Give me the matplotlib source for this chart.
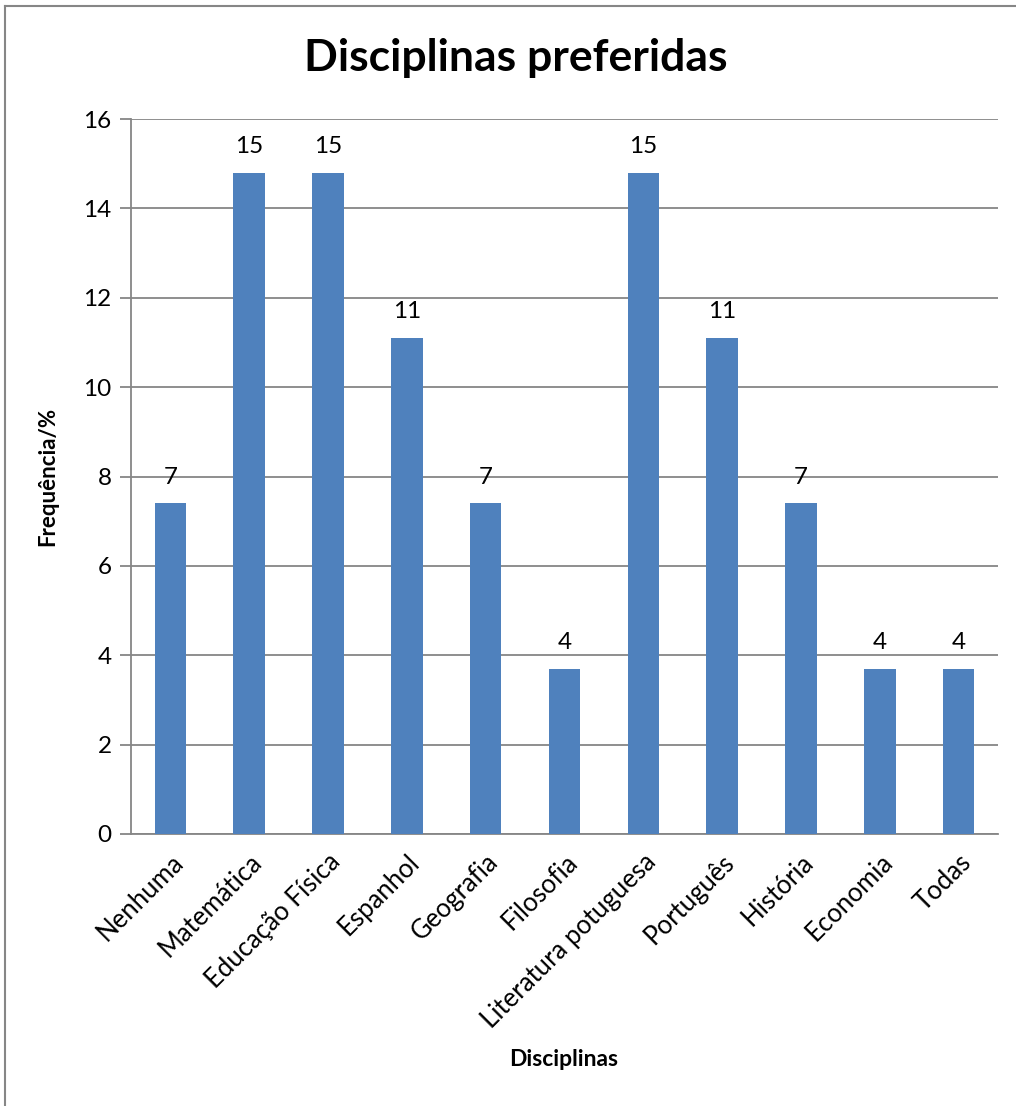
import matplotlib
matplotlib.use("Agg")
import matplotlib.pyplot as plt
from matplotlib.lines import Line2D

# Data
disciplinas = ["Nenhuma", "Matemática", "Educação Física", "Espanhol", "Geografia",
               "Filosofia", "Literatura potuguesa", "Português", "História",
               "Economia", "Todas"]
frequencia = [7.4, 14.8, 14.8, 11.1, 7.4, 3.7, 14.8, 11.1, 7.4, 3.7, 3.7]
rotulos = ["7", "15", "15", "11", "7", "4", "15", "11", "7", "4", "4"]
y_ticks = [0, 2, 4, 6, 8, 10, 12, 14, 16]

plt.rcParams["font.family"] = ["Lato", "DejaVu Sans"]

W, H = 1016, 1106
fig = plt.figure(figsize=(W / 100, H / 100), dpi=100)
ax = fig.add_axes([131 / W, 1 - 834 / H, (998 - 131) / W, (834 - 119) / H])

grid_c = "#868686"
x = range(len(disciplinas))
bars = ax.bar(x, frequencia, width=0.4, color="#4F81BD", zorder=3)
for b, r in zip(bars, rotulos):
    ax.text(b.get_x() + b.get_width() / 2, b.get_height() + 0.35, r,
            ha="center", va="bottom", fontsize=17.5)

ax.set_xlim(-0.5, len(disciplinas) - 0.5)
ax.set_ylim(0, 16)
ax.set_yticks(y_ticks)
ax.yaxis.grid(True, color=grid_c, linewidth=1.3, zorder=0)
for s in ["top", "right"]:
    ax.spines[s].set_visible(False)
for s in ["left", "bottom"]:
    ax.spines[s].set_color(grid_c)
    ax.spines[s].set_linewidth(1.3)
ax.tick_params(axis="y", length=8, width=1.3, color=grid_c, labelsize=17.5, pad=6)
ax.tick_params(axis="x", length=0, labelsize=18.5, pad=11)
ax.set_xticks(list(x))
ax.set_xticklabels(disciplinas, rotation=45, ha="right", rotation_mode="anchor")

ax.set_ylabel("Frequência/%", fontsize=16, fontweight="bold", labelpad=18)
fig.text(564 / W, 1 - 1060 / H, "Disciplinas", ha="center",
         va="center", fontsize=16.5, fontweight="bold")
fig.text(516 / W, 1 - 58 / H, "Disciplinas preferidas", ha="center", va="center",
         fontsize=32, fontweight="bold")

# frame around the chart (right/bottom cut off in the original)
fig.add_artist(Line2D([5 / W, 5 / W], [0, 1 - 6 / H], color=grid_c, linewidth=1.5,
                      transform=fig.transFigure))
fig.add_artist(Line2D([5 / W, 1], [1 - 6 / H, 1 - 6 / H], color=grid_c, linewidth=1.5,
                      transform=fig.transFigure))

fig.savefig("out.png", dpi=100)
